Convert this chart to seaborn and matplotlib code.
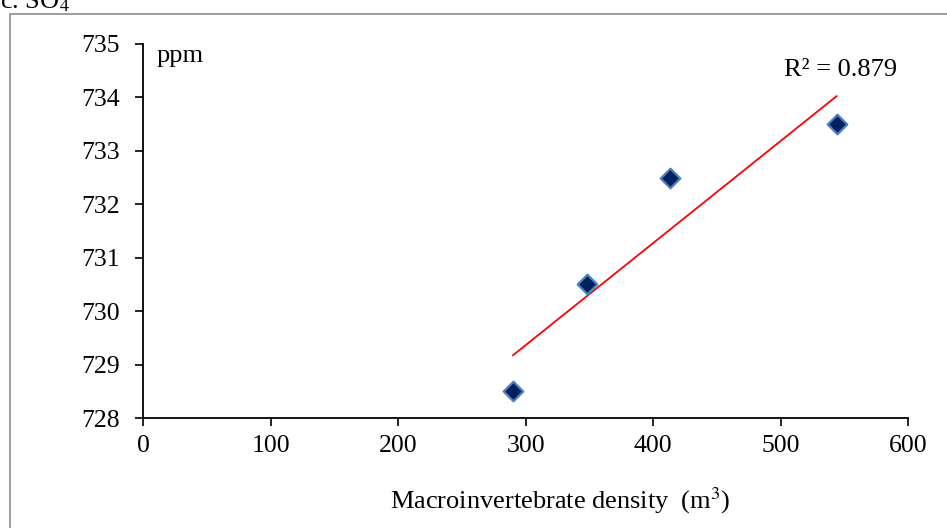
import matplotlib
matplotlib.use("Agg")
import matplotlib.pyplot as plt
import seaborn as sns
from matplotlib.patches import Rectangle

# values
density = [290, 348, 413, 544]
so4_ppm = [728.5, 730.5, 732.5, 733.5]
x_ticks = [0, 100, 200, 300, 400, 500, 600]
y_ticks = [728, 729, 730, 731, 732, 733, 734, 735]
r2_label = "R² = 0.879"

sns.set_style("ticks", {"axes.edgecolor": "black", "xtick.color": "black",
                        "ytick.color": "black", "text.color": "black",
                        "axes.labelcolor": "black"})
plt.rcParams["font.family"] = ["Liberation Serif", "DejaVu Serif"]
plt.rcParams["mathtext.fontset"] = "stix"

fig = plt.figure(figsize=(9.47, 5.28), dpi=100)
ax = fig.add_axes([0.151, 0.208, 0.808, 0.709])

# outer frame of the panel
fig.patches.append(Rectangle((10 / 947, -0.02), 1.0, 1 - 14 / 528 + 0.02,
                             transform=fig.transFigure, fill=False,
                             edgecolor="#8c8c8c", linewidth=1.2))
fig.text(0.0, 1 - 8 / 528, "c. SO$_4$", fontsize=19, va="baseline", ha="left")

sns.regplot(x=density, y=so4_ppm, ax=ax, scatter=False, ci=None, truncate=True,
            line_kws={"color": "#ff0000", "linewidth": 1.3})
sns.scatterplot(x=density, y=so4_ppm, ax=ax, marker="D", s=100,
                color="#002060", edgecolor="#4f81bd", linewidth=1.6, zorder=3)

ax.set_xlim(0, 600)
ax.set_ylim(728, 735)
ax.set_xticks(x_ticks)
ax.set_yticks(y_ticks)
ax.tick_params(labelsize=18.5, length=6, width=1.2, direction="out")
ax.tick_params(axis="y", pad=11)
ax.tick_params(axis="x", pad=6)
for s in ["left", "bottom"]:
    ax.spines[s].set_linewidth(1.3)
sns.despine(ax=ax)

ax.set_xlabel("Macroinvertebrate density  (m$^3$)", fontsize=19)
ax.xaxis.set_label_coords(0.545, -0.18)
ax.set_ylabel("")
ax.text(11, 734.98, "ppm", fontsize=19, va="top", ha="left")
ax.text(547, 734.3, r2_label, fontsize=19, ha="center", va="bottom")

fig.savefig("out.png", dpi=100)
